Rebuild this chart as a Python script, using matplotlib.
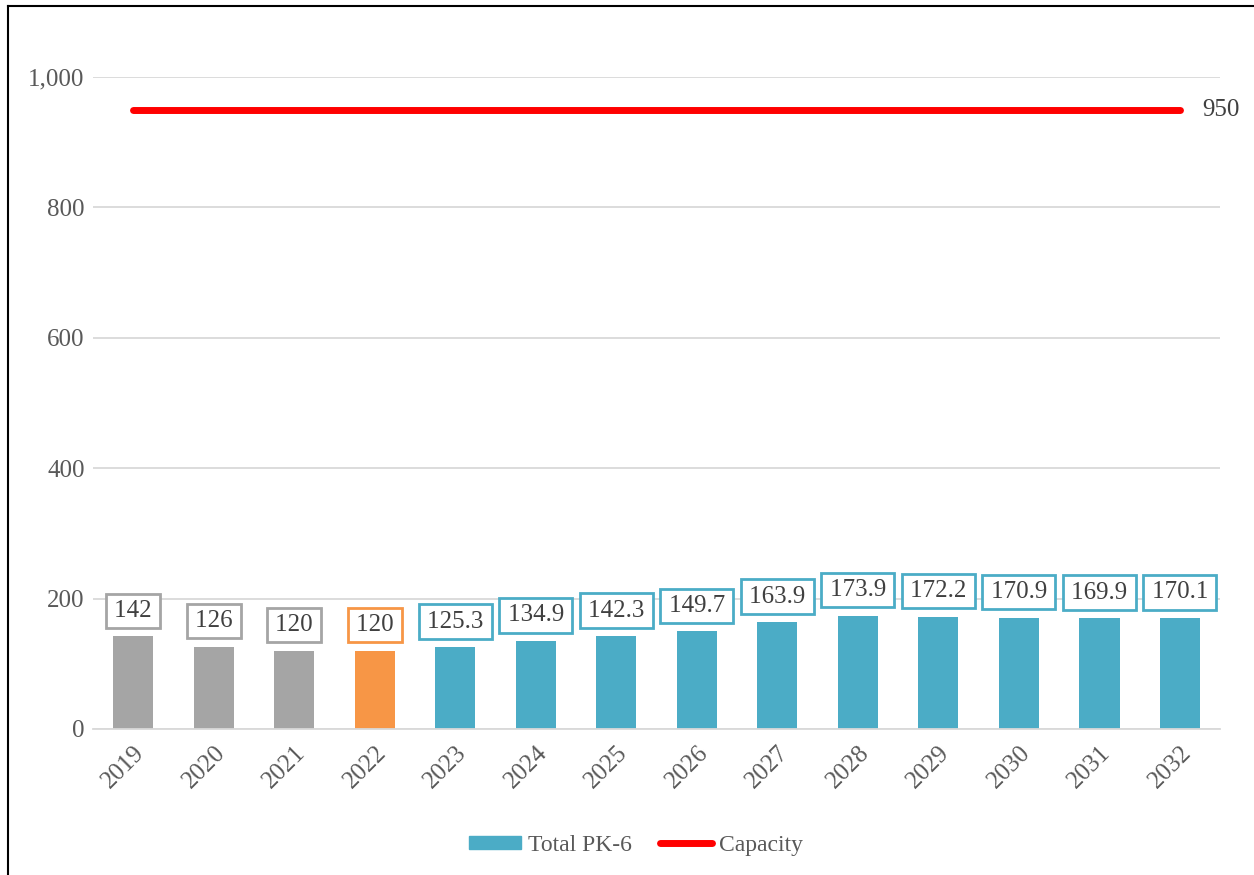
import matplotlib
matplotlib.use('Agg')
import matplotlib.pyplot as plt
from matplotlib.lines import Line2D
from matplotlib.patches import Patch

# chart data
years = ['2019', '2020', '2021', '2022', '2023', '2024', '2025',
         '2026', '2027', '2028', '2029', '2030', '2031', '2032']
total_pk6 = [142, 126, 120, 120, 125.3, 134.9, 142.3,
             149.7, 163.9, 173.9, 172.2, 170.9, 169.9, 170.1]
capacity = [950] * 14

gray = '#a5a5a5'
orange = '#f79646'
teal = '#4bacc6'
bar_colors = [gray, gray, gray, orange] + [teal] * 10

plt.rcParams['font.family'] = ['Liberation Serif', 'DejaVu Serif']
fs = 18

fig = plt.figure(figsize=(12.54, 8.75), dpi=100)
ax = fig.add_axes([0.0742, 0.1669, 0.8988, 0.7451])

x = list(range(len(years)))
ax.bar(x, total_pk6, width=0.5, color=bar_colors, zorder=2)
ax.plot(x, capacity, color='#ff0000', linewidth=5, solid_capstyle='round', zorder=3)

# data labels in boxes
for xi, v, c in zip(x, total_pk6, bar_colors):
    ax.annotate(f'\u200a{v:g}\u200a', (xi, v), xytext=(0, 10.5), textcoords='offset points',
                ha='center', va='bottom', fontsize=fs, color='#404040',
                bbox=dict(boxstyle='square,pad=0.25', fc='white', ec=c, lw=2),
                zorder=4)

ax.annotate(f'{capacity[-1]:g}', (x[-1], capacity[-1]), xytext=(16, 0),
            textcoords='offset points', ha='left', va='center',
            fontsize=fs, color='#404040', annotation_clip=False)

ax.set_xlim(-0.5, len(years) - 0.5)
ax.set_ylim(0, 1000)
ax.set_yticks([0, 200, 400, 600, 800, 1000])
ax.set_yticklabels(['0', '200', '400', '600', '800', '1,000'])
ax.set_xticks(x)
ax.set_xticklabels(years, rotation=45, ha='right', rotation_mode='anchor')
ax.tick_params(length=0, labelsize=fs, colors='#595959')
ax.tick_params(axis='y', pad=6)
ax.tick_params(axis='x', pad=9)
ax.grid(axis='y', color='#d9d9d9', linewidth=1.3, zorder=0)
ax.set_axisbelow(True)
for s in ['top', 'right', 'left']:
    ax.spines[s].set_visible(False)
ax.spines['bottom'].set_color('#d9d9d9')
ax.spines['bottom'].set_linewidth(1.3)

handles = [Patch(color=teal, label='Total PK-6'),
           Line2D([0], [0], color='#ff0000', lw=5, solid_capstyle='round', label='Capacity')]
fig.legend(handles=handles, loc='center', bbox_to_anchor=(0.507, 0.034), ncol=2,
           frameon=False, fontsize=fs - 1, handlelength=2.2, handleheight=0.5,
           handletextpad=0.3, columnspacing=1.2, labelcolor='#595959')

# page border lines
fig.add_artist(Line2D([8 / 1254, 8 / 1254], [0, 1 - 6 / 875], color='black', lw=1.5))
fig.add_artist(Line2D([8 / 1254, 1], [1 - 6 / 875, 1 - 6 / 875], color='black', lw=1.5))

fig.savefig('out.png', dpi=100)
